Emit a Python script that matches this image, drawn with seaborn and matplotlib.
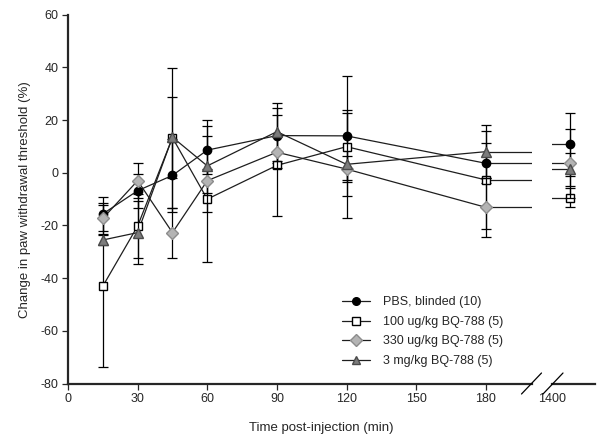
import matplotlib
matplotlib.use("Agg")
import matplotlib.pyplot as plt
from matplotlib.lines import Line2D
import seaborn as sns
import pandas as pd
import numpy as np

# time points (min); last one sits past the axis break
times = [15, 30, 45, 60, 90, 120, 180, 1440]

groups = ["PBS, blinded (10)", "100 ug/kg BQ-788 (5)",
          "330 ug/kg BQ-788 (5)", "3 mg/kg BQ-788 (5)"]

pbs_mean = [-15.6, -6.8, -1.0, 8.6, 14.1, 14.0, 3.6, 10.8]
pbs_err = [6.5, 6.5, 14.0, 9.2, 10.4, 22.7, 7.6, 12.0]

bq100_mean = [-43.0, -20.2, 13.3, -10.0, 2.8, 9.9, -2.7, -9.4]
bq100_err = [30.7, 12.0, 26.5, 24.0, 19.2, 12.8, 18.5, 3.7]

bq330_mean = [-17.3, -3.0, -22.7, -3.0, 7.8, 1.4, -13.1, 3.6]
bq330_err = [6.0, 6.6, 9.5, 4.5, 6.0, 5.0, 11.1, 13.0]

bq3mg_mean = [-25.5, -22.7, 13.5, 2.6, 15.6, 3.2, 8.0, 1.3]
bq3mg_err = [2.0, 12.0, 15.4, 17.5, 11.0, 20.5, 10.0, 6.3]

means = [pbs_mean, bq100_mean, bq330_mean, bq3mg_mean]
errs = [pbs_err, bq100_err, bq330_err, bq3mg_err]

markers = ["o", "s", "D", "^"]
faces = ["black", "white", "#b4b4b4", "#7c7c7c"]
edges = ["black", "black", "#8c8c8c", "#4a4a4a"]
sizes = [6, 6, 6.5, 6.5]

df = pd.DataFrame({
    "time": times * len(groups),
    "value": sum(means, []),
    "err": sum(errs, []),
    "group": np.repeat(groups, len(times)),
})

sns.set_style("ticks")
plt.rcParams["font.family"] = ["Liberation Sans", "DejaVu Sans"]
plt.rcParams["font.size"] = 9
plt.rcParams["axes.unicode_minus"] = False

fig = plt.figure(figsize=(6.02, 4.43), dpi=100)
ax = fig.add_axes([0.113, 0.134, 0.771, 0.833])
ax2 = fig.add_axes([0.917, 0.134, 0.071, 0.833], sharey=ax)

line_col = "#1e1e1e"
early = df[df["time"] <= 180]
sns.lineplot(data=early, x="time", y="value", hue="group", palette=[line_col] * 4,
             linewidth=0.9, legend=False, ax=ax, estimator=None, sort=False)

# segment across the break: flat at the 180 min value, then at the late value
for g in groups:
    d = df[(df["group"] == g) & (df["time"] >= 180)]
    for a in (ax, ax2):
        a.plot(d["time"], d["value"], drawstyle="steps-mid", color=line_col,
               lw=0.9, zorder=2)

for i, g in enumerate(groups):
    d = df[df["group"] == g]
    for a in (ax, ax2):
        a.errorbar(d["time"], d["value"], yerr=d["err"], fmt=markers[i],
                   mfc=faces[i], mec=edges[i], ms=sizes[i], ecolor="black",
                   elinewidth=0.9, capsize=3.8, capthick=0.9, zorder=3 + i * 0.1)

ax.set_xlim(0, 200)
ax.set_ylim(-80, 60)
ax.set_xticks([0, 30, 60, 90, 120, 150, 180])
ax.set_yticks(range(-80, 61, 20))
ax2.set_xlim(1400, 1496)
ax2.set_xticks([1400])
ax2.tick_params(axis="y", left=False, labelleft=False)

for a in (ax, ax2):
    for s in ("top", "right"):
        a.spines[s].set_visible(False)
    a.spines["bottom"].set_linewidth(1.6)
    a.tick_params(axis="both", width=0.9, length=4, labelsize=9, pad=3)
ax2.tick_params(axis="x", length=0, pad=7)
ax.spines["left"].set_linewidth(1.6)
ax2.spines["left"].set_visible(False)

# break marks on the x-axis
kw = dict(transform=fig.transFigure, color="black", lw=0.9, clip_on=False)
for xc in (531.5 / 602, 553 / 602):
    fig.add_artist(Line2D([xc - 10 / 602, xc + 10 / 602],
                          [1 - 394 / 443, 1 - 373 / 443], **kw))

ax.set_xlabel("Time post-injection (min)", fontsize=9.5)
ax.xaxis.set_label_coords(0.545, -0.105)
ax.set_ylabel("Change in paw withdrawal threshold (%)", fontsize=9.5, labelpad=7)

handles = [Line2D([], [], color=line_col, lw=0.9, marker=markers[i], mfc=faces[i],
                  mec=edges[i], ms=sizes[i] - 0.5) for i in range(4)]
fig.legend(handles, groups, loc="upper left", bbox_to_anchor=(0.558, 0.345),
           frameon=False, fontsize=9, handlelength=2.2, handletextpad=1.1,
           labelspacing=0.6, borderpad=0)

fig.savefig("out.png", dpi=100)
